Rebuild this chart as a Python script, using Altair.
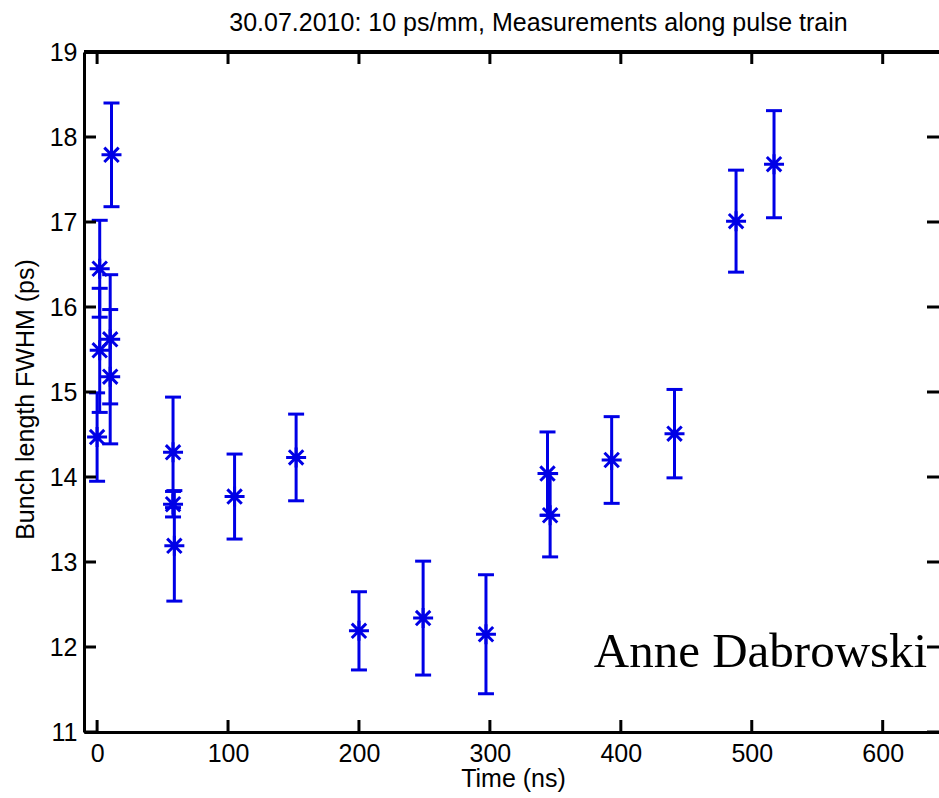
import altair as alt
import pandas as pd

# ---- data ----
time_ns = [0, 2, 2, 10, 10, 11, 58, 58, 59, 105, 152, 200, 249, 297, 344, 346, 393, 441, 488, 517]
fwhm_ps = [14.47, 15.49, 16.45, 15.62, 15.18, 17.79, 14.29, 13.68, 13.19, 13.77, 14.23,
           12.19, 12.34, 12.15, 14.04, 13.55, 14.20, 14.51, 17.01, 17.68]
err_ps = [0.52, 0.73, 0.57, 0.76, 0.79, 0.61, 0.65, 0.15, 0.65, 0.50, 0.51,
          0.46, 0.67, 0.70, 0.49, 0.49, 0.51, 0.52, 0.60, 0.63]

x_ticks = [0, 100, 200, 300, 400, 500, 600]
y_ticks = [11, 12, 13, 14, 15, 16, 17, 18, 19]

note_text = ["Anne Dabrowski"]
note_x = [634]
note_y = [11.77]

title_text = "30.07.2010: 10 ps/mm, Measurements along pulse train"
x_title = "Time (ns)"
y_title = "Bunch length FWHM (ps)"

# ---- styling ----
W, H = 855, 680
BLUE = "#0000e6"
FONT = "Liberation Sans"
TICK = 12
STAR = "M-1,0L1,0M0,-1L0,1M-0.72,-0.72L0.72,0.72M-0.72,0.72L0.72,-0.72"

df = pd.DataFrame({"t": time_ns, "v": fwhm_ps, "e": err_ps})
df["lo"] = df["v"] - df["e"]
df["hi"] = df["v"] + df["e"]

xs = alt.Scale(domain=[-10, 643], nice=False, zero=False)
ys = alt.Scale(domain=[11, 19], nice=False, zero=False)

x_axis = alt.Axis(values=x_ticks, title=x_title, grid=False, ticks=False,
                  domainWidth=3, domainColor="black",
                  labelFont=FONT, labelFontSize=25, labelColor="black", labelPadding=9,
                  titleFont=FONT, titleFontSize=25, titleFontWeight="normal", titleColor="black",
                  titleX=429, titleY=54, titleBaseline="alphabetic", titleAlign="center")
y_axis = alt.Axis(values=y_ticks, title=y_title, grid=False, ticks=False,
                  domainWidth=3, domainColor="black",
                  labelFont=FONT, labelFontSize=25, labelColor="black", labelPadding=7,
                  titleFont=FONT, titleFontSize=25, titleFontWeight="normal", titleColor="black",
                  titleAngle=270, titleX=-51, titleY=347, titleBaseline="alphabetic",
                  titleAlign="center")

X = lambda f: alt.X(f, type="quantitative", scale=xs, axis=x_axis)
Y = lambda f: alt.Y(f, type="quantitative", scale=ys, axis=y_axis)

base = alt.Chart(df)

bars = base.mark_rule(color=BLUE, strokeWidth=3).encode(x=X("t"), y=Y("lo"), y2="hi")
cap_lo = base.mark_tick(color=BLUE, orient="horizontal", size=16, thickness=3, opacity=1).encode(
    x=X("t"), y=Y("lo"))
cap_hi = base.mark_tick(color=BLUE, orient="horizontal", size=16, thickness=3, opacity=1).encode(
    x=X("t"), y=Y("hi"))
stars = base.mark_point(shape=STAR, size=400, filled=False, strokeWidth=3,
                        color=BLUE, opacity=1).encode(x=X("t"), y=Y("v"))

xt = alt.Chart(pd.DataFrame({"xt": x_ticks}))
yt = alt.Chart(pd.DataFrame({"yt": y_ticks}))
tick_style = dict(color="black", strokeWidth=3)
bottom_ticks = xt.mark_rule(**tick_style).encode(x=X("xt"), y=alt.value(H), y2=alt.value(H - TICK))
top_ticks = xt.mark_rule(**tick_style).encode(x=X("xt"), y=alt.value(0), y2=alt.value(TICK))
left_ticks = yt.mark_rule(**tick_style).encode(y=Y("yt"), x=alt.value(0), x2=alt.value(TICK))
right_ticks = yt.mark_rule(**tick_style).encode(y=Y("yt"), x=alt.value(W), x2=alt.value(W - TICK))
top_border = xt.mark_rule(**tick_style).encode(x=alt.value(0), x2=alt.value(W), y=alt.value(0))

note = alt.Chart(pd.DataFrame({"nx": note_x, "ny": note_y, "nt": note_text})).mark_text(
    font="Liberation Serif", fontSize=49, align="right", baseline="alphabetic", color="black"
).encode(x=X("nx"), y=Y("ny"), text="nt:N")

chart = alt.layer(
    bars, cap_lo, cap_hi, stars, bottom_ticks, top_ticks, left_ticks, right_ticks, top_border, note
).properties(
    width=W, height=H,
    title=alt.TitleParams(title_text, font=FONT, fontSize=25, fontWeight="normal",
                          color="black", anchor="middle", offset=14, dy=10, dx=27),
    autosize=alt.AutoSizeParams(type="none"),
    padding={"left": 84, "top": 52, "right": 0, "bottom": 66},
    background="white",
).configure_view(stroke=None)

chart.save("out.html", embed_options={"renderer": "svg", "actions": False})
